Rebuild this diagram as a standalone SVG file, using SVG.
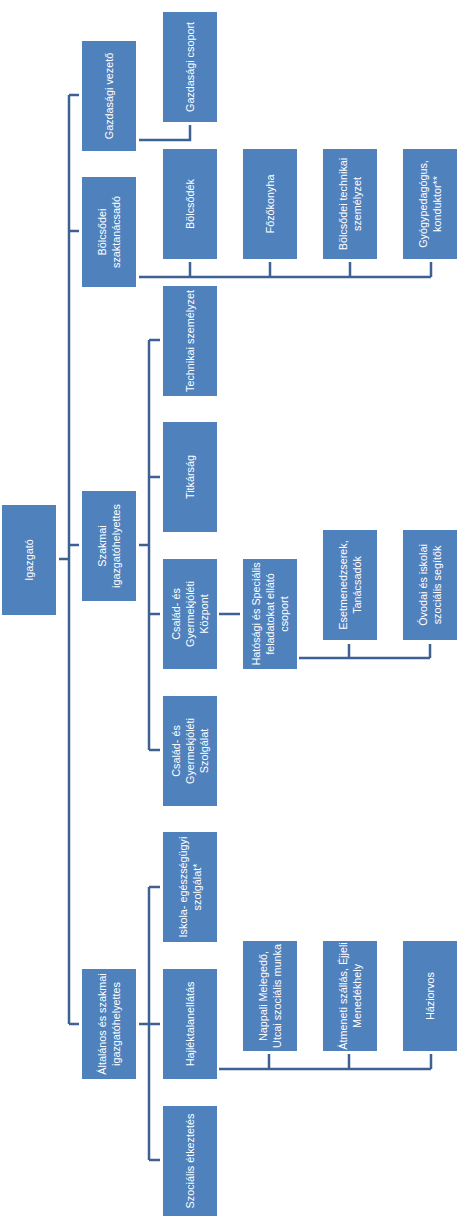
<svg xmlns="http://www.w3.org/2000/svg" width="465" height="1228" viewBox="0 0 465 1228">
<style>
.b{fill:#4F81BD}
.t{fill:#FFFFFF;font-family:"Liberation Sans",Arial,sans-serif;font-size:10.8px;text-anchor:middle}
.c{fill:none;stroke:#3D6192;stroke-width:2.5;stroke-linecap:butt;stroke-linejoin:miter}
</style>
<rect width="465" height="1228" fill="#FFFFFF"/>
<g id="connectors" class="c">
<path d="M69 95V1024"/>
<path d="M69 95H79M69 231H79M69 545H79M69 1024H79M59 559H69"/>
<path d="M139 140H190V125"/>
<path d="M139 277H431M190 277V262M270 277V262M350 277V262M431 277V262"/>
<path d="M149 340V750M139 545H149M149 340H160M149 477H160M149 614H160M149 750H160"/>
<path d="M219 614H240"/>
<path d="M299 658H430M349 658V644M430 658V644"/>
<path d="M149 887V1160M139 1024H149M149 887H160M149 1024H160M149 1160H160"/>
<path d="M219 1069H431M269 1069V1054M349 1069V1054M431 1069V1054"/>
</g>
<g id="n_igazgato"><rect class="b" x="2" y="505" width="54" height="110"/><text class="t" transform="translate(29,560) rotate(-90)" y="4">Igazgató</text></g>
<g id="n_gazd_vez"><rect class="b" x="82" y="41" width="54" height="110"/><text class="t" transform="translate(109,96) rotate(-90)" y="4">Gazdasági vezető</text></g>
<g id="n_bolcs_szak"><rect class="b" x="82" y="177" width="54" height="110"/><text class="t" transform="translate(109,232) rotate(-90)"><tspan x="0" y="-3">Bölcsődei</tspan><tspan x="0" y="11">szaktanácsadó</tspan></text></g>
<g id="n_szakmai"><rect class="b" x="82" y="491" width="54" height="110"/><text class="t" transform="translate(109,546) rotate(-90)"><tspan x="0" y="-3">Szakmai</tspan><tspan x="0" y="11">igazgatóhelyettes</tspan></text></g>
<g id="n_altalanos"><rect class="b" x="82" y="969" width="54" height="110"/><text class="t" transform="translate(109,1024) rotate(-90)"><tspan x="0" y="-3">Általános és szakmai</tspan><tspan x="0" y="11">igazgatóhelyettes</tspan></text></g>
<g id="n_gazd_csop"><rect class="b" x="163" y="12" width="54" height="110"/><text class="t" transform="translate(190,67) rotate(-90)" y="4">Gazdasági csoport</text></g>
<g id="n_bolcsodek"><rect class="b" x="163" y="149" width="54" height="110"/><text class="t" transform="translate(190,204) rotate(-90)" y="4">Bölcsődék</text></g>
<g id="n_technikai"><rect class="b" x="163" y="286" width="54" height="110"/><text class="t" transform="translate(190,341) rotate(-90)" y="4">Technikai személyzet</text></g>
<g id="n_titkarsag"><rect class="b" x="163" y="422" width="54" height="110"/><text class="t" transform="translate(190,477) rotate(-90)" y="4">Titkárság</text></g>
<g id="n_cgy_kozpont"><rect class="b" x="163" y="559" width="54" height="110"/><text class="t" transform="translate(190,614) rotate(-90)"><tspan x="0" y="-10">Család- és</tspan><tspan x="0" y="4">Gyermekjóléti</tspan><tspan x="0" y="18">Központ</tspan></text></g>
<g id="n_cgy_szolg"><rect class="b" x="163" y="696" width="54" height="110"/><text class="t" transform="translate(190,751) rotate(-90)"><tspan x="0" y="-10">Család- és</tspan><tspan x="0" y="4">Gyermekjóléti</tspan><tspan x="0" y="18">Szolgálat</tspan></text></g>
<g id="n_iskola"><rect class="b" x="163" y="832" width="54" height="110"/><text class="t" transform="translate(190,887) rotate(-90)"><tspan x="0" y="-3">Iskola- egészségügyi</tspan><tspan x="0" y="11">szolgálat*</tspan></text></g>
<g id="n_hajlektalan"><rect class="b" x="163" y="969" width="54" height="110"/><text class="t" transform="translate(190,1024) rotate(-90)" y="4">Hajléktalanellátás</text></g>
<g id="n_szoc_etk"><rect class="b" x="163" y="1106" width="54" height="110"/><text class="t" transform="translate(190,1161) rotate(-90)" y="4">Szociális étkeztetés</text></g>
<g id="n_fozokonyha"><rect class="b" x="243" y="149" width="54" height="110"/><text class="t" transform="translate(270,204) rotate(-90)" y="4">Főzőkonyha</text></g>
<g id="n_hatosagi"><rect class="b" x="243" y="559" width="54" height="110"/><text class="t" transform="translate(270,614) rotate(-90)"><tspan x="0" y="-10">Hatósági és Speciális</tspan><tspan x="0" y="4">feladatokat ellátó</tspan><tspan x="0" y="18">csoport</tspan></text></g>
<g id="n_nappali"><rect class="b" x="243" y="941" width="54" height="110"/><text class="t" transform="translate(270,996) rotate(-90)"><tspan x="0" y="-3">Nappali Melegedő,</tspan><tspan x="0" y="11">Utcai szociális munka</tspan></text></g>
<g id="n_bolcs_tech"><rect class="b" x="323" y="149" width="54" height="110"/><text class="t" transform="translate(350,204) rotate(-90)"><tspan x="0" y="-3">Bölcsődei technikai</tspan><tspan x="0" y="11">személyzet</tspan></text></g>
<g id="n_eset"><rect class="b" x="323" y="530" width="54" height="110"/><text class="t" transform="translate(350,585) rotate(-90)"><tspan x="0" y="-3">Esetmenedzserek,</tspan><tspan x="0" y="11">Tanácsadók</tspan></text></g>
<g id="n_atmeneti"><rect class="b" x="323" y="941" width="54" height="110"/><text class="t" transform="translate(350,996) rotate(-90)"><tspan x="0" y="-3">Átmeneti szállás, Éjjeli</tspan><tspan x="0" y="11">Menedékhely</tspan></text></g>
<g id="n_gyogyped"><rect class="b" x="403" y="149" width="54" height="110"/><text class="t" transform="translate(430,204) rotate(-90)"><tspan x="0" y="-3">Gyógypedagógus,</tspan><tspan x="0" y="11">konduktor**</tspan></text></g>
<g id="n_ovodai"><rect class="b" x="403" y="530" width="54" height="110"/><text class="t" transform="translate(430,585) rotate(-90)"><tspan x="0" y="-3">Óvodai és iskolai</tspan><tspan x="0" y="11">szociális segítők</tspan></text></g>
<g id="n_haziorvos"><rect class="b" x="403" y="941" width="54" height="110"/><text class="t" transform="translate(430,996) rotate(-90)" y="4">Háziorvos</text></g>
</svg>
